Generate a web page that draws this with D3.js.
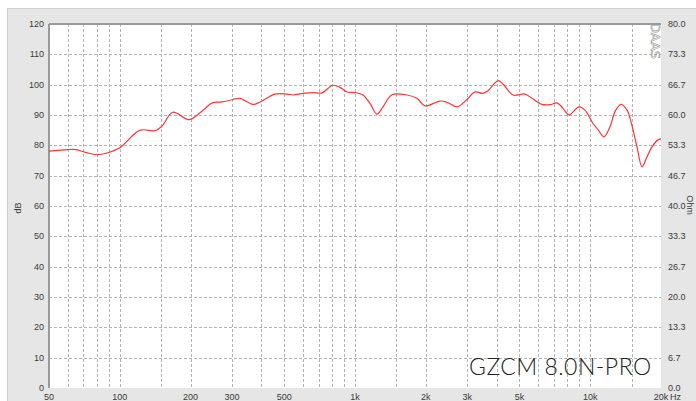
<!DOCTYPE html>
<html>
<head>
<meta charset="utf-8">
<script src="https://cdn.jsdelivr.net/npm/d3@7"></script>
<style>
  body { margin: 0; background: #fff; }
  svg { display: block; }
  text { font-family: "Liberation Sans", Arial, sans-serif; }
</style>
</head>
<body>
<div id="chart"></div>
<script>
// Frequency response data
var freqs = [50, 60, 65, 72, 80, 91, 100, 122, 141, 151, 168, 197, 226, 247, 272, 303, 324, 368, 395,
    457, 514, 545, 601, 663, 724, 806, 863, 925, 1000, 1081, 1158, 1240, 1315, 1436, 1664, 1834, 1984,
    2298, 2461, 2714, 2993, 3237, 3500, 3677, 4055, 4259, 4697, 5281, 5657, 6239, 6745, 7226, 7664,
    8126, 8962, 9504, 10280, 10795, 11447, 12140, 12750, 13520, 14340, 15050, 15810, 16610, 17430,
    18310, 19420, 20000];
var spl = [78.1, 78.6, 78.6, 77.6, 76.9, 77.8, 79.2, 85.0, 84.8, 86.3, 90.9, 88.5, 91.6, 94.0, 94.3, 95.1, 95.5, 93.5, 94.3,
    96.9, 96.9, 96.6, 97.1, 97.4, 97.3, 99.8, 99.1, 97.6, 97.4, 96.6, 93.8, 90.3, 92.7, 96.7, 96.6, 95.5, 93.0,
    94.6, 94.2, 92.7, 95.1, 97.6, 97.1, 98.0, 101.3, 100.2, 96.6, 96.9, 95.5, 93.5, 93.4, 94.0, 92.2,
    90.0, 92.7, 91.6, 87.2, 85.2, 82.8, 86.1, 91.1, 93.5, 91.6, 86.6, 79.5, 72.9, 76.2,
    79.5, 81.8, 82.1];

var gridFreqs = [60, 70, 80, 90, 100, 150, 200, 300, 400, 500, 600, 700, 800, 900, 1000, 1500, 2000,
    3000, 4000, 5000, 6000, 7000, 8000, 9000, 10000, 15000];
var xTickFreqs = [50, 100, 200, 300, 500, 1000, 2000, 3000, 5000, 10000, 20000];
var xTickLabels = ["50", "100", "200", "300", "500", "1k", "2k", "3k", "5k", "10k", "20k"];
var dbTicks = [0, 10, 20, 30, 40, 50, 60, 70, 80, 90, 100, 110, 120];
var ohmTicks = ["0.0", "6.7", "13.3", "20.0", "26.7", "33.3", "40.0", "46.7", "53.3", "60.0", "66.7", "73.3", "80.0"];

var W = 696, H = 401;
var plot = {left: 49, right: 661, top: 24, bottom: 388};

var svg = d3.select("#chart").append("svg")
    .attr("width", W)
    .attr("height", H);

// outer panel
svg.append("rect")
    .attr("x", 7).attr("y", 8)
    .attr("width", W - 7).attr("height", H - 8)
    .attr("fill", "#e6e6e6");
svg.append("line")
    .attr("x1", 7).attr("x2", W).attr("y1", 8.5).attr("y2", 8.5)
    .attr("stroke", "#cfcfcf");
svg.append("line")
    .attr("x1", 7.5).attr("x2", 7.5).attr("y1", 8).attr("y2", H)
    .attr("stroke", "#cfcfcf");

var x = d3.scaleLog()
    .domain([50, 20000])
    .range([plot.left, plot.right]);

var y = d3.scaleLinear()
    .domain([0, 120])
    .range([plot.bottom, plot.top]);

var yOhm = d3.scaleLinear()
    .domain([0, 80])
    .range([plot.bottom, plot.top]);

// plot background
svg.append("rect")
    .attr("x", plot.left).attr("y", plot.top)
    .attr("width", plot.right - plot.left)
    .attr("height", plot.bottom - plot.top)
    .attr("fill", "#fff");

// vertical grid
svg.append("g").selectAll("line")
    .data(gridFreqs)
    .join("line")
    .attr("x1", d => Math.round(x(d)) + 0.5)
    .attr("x2", d => Math.round(x(d)) + 0.5)
    .attr("y1", plot.top)
    .attr("y2", plot.bottom)
    .attr("stroke", "#b4b4b4")
    .attr("stroke-dasharray", "3,2");

// horizontal grid
svg.append("g").selectAll("line")
    .data(dbTicks.slice(1, -1))
    .join("line")
    .attr("x1", plot.left)
    .attr("x2", plot.right)
    .attr("y1", d => Math.round(y(d)) + 0.5)
    .attr("y2", d => Math.round(y(d)) + 0.5)
    .attr("stroke", "#b4b4b4")
    .attr("stroke-dasharray", "3,2");

// plot border (top + left darker)
svg.append("line")
    .attr("x1", plot.left).attr("x2", plot.right)
    .attr("y1", plot.top).attr("y2", plot.top)
    .attr("stroke", "#9a9a9a").attr("stroke-width", 2);
svg.append("line")
    .attr("x1", plot.left).attr("x2", plot.left)
    .attr("y1", plot.top).attr("y2", plot.bottom)
    .attr("stroke", "#9a9a9a").attr("stroke-width", 2);

// left dB axis labels
svg.append("g").selectAll("text")
    .data(dbTicks)
    .join("text")
    .attr("x", 44)
    .attr("y", d => y(d))
    .attr("dy", "0.35em")
    .attr("text-anchor", "end")
    .attr("font-size", 9)
    .attr("fill", "#3a3a3a")
    .text(d => d);

// right Ohm axis labels
svg.append("g").selectAll("text")
    .data(ohmTicks)
    .join("text")
    .attr("x", 668)
    .attr("y", (d, i) => yOhm(i * 80 / 12))
    .attr("dy", "0.35em")
    .attr("font-size", 9)
    .attr("fill", "#3a3a3a")
    .text(d => d);

// bottom frequency labels
svg.append("g").selectAll("text")
    .data(xTickFreqs)
    .join("text")
    .attr("x", d => x(d))
    .attr("y", 400)
    .attr("text-anchor", "middle")
    .attr("font-size", 9)
    .attr("fill", "#3a3a3a")
    .text((d, i) => xTickLabels[i]);

svg.append("text")
    .attr("x", x(20000) + 9)
    .attr("y", 400)
    .attr("font-size", 9)
    .attr("fill", "#3a3a3a")
    .text("Hz");

// axis titles
svg.append("text")
    .attr("transform", "translate(21,208) rotate(-90)")
    .attr("text-anchor", "middle")
    .attr("font-size", 9)
    .attr("fill", "#3a3a3a")
    .text("dB");

svg.append("text")
    .attr("transform", "translate(687,205) rotate(90)")
    .attr("text-anchor", "middle")
    .attr("font-size", 9)
    .attr("fill", "#3a3a3a")
    .text("Ohm");

// DAAS mark
svg.append("text")
    .attr("transform", "translate(651,41) rotate(90)")
    .attr("text-anchor", "middle")
    .attr("font-size", 13)
    .attr("fill", "none")
    .attr("stroke", "#999")
    .attr("stroke-width", 0.6)
    .style("font-family", "DejaVu Sans")
    .text("DAAS");

// model name
svg.append("text")
    .attr("x", 469)
    .attr("y", 375)
    .attr("font-size", 23)
    .attr("font-weight", 300)
    .attr("letter-spacing", 0.5)
    .attr("fill", "#222")
    .style("font-family", "Lato")
    .text("GZCM 8.0N-PRO");

// response curve
var pts = freqs.map((f, i) => [f, spl[i]]);
var line = d3.line()
    .x(d => x(d[0]))
    .y(d => y(d[1]))
    .curve(d3.curveCatmullRom);

svg.append("path")
    .datum(pts)
    .attr("fill", "none")
    .attr("stroke", "#ff3434")
    .attr("stroke-width", 1.2)
    .attr("d", line);
</script>
</body>
</html>
